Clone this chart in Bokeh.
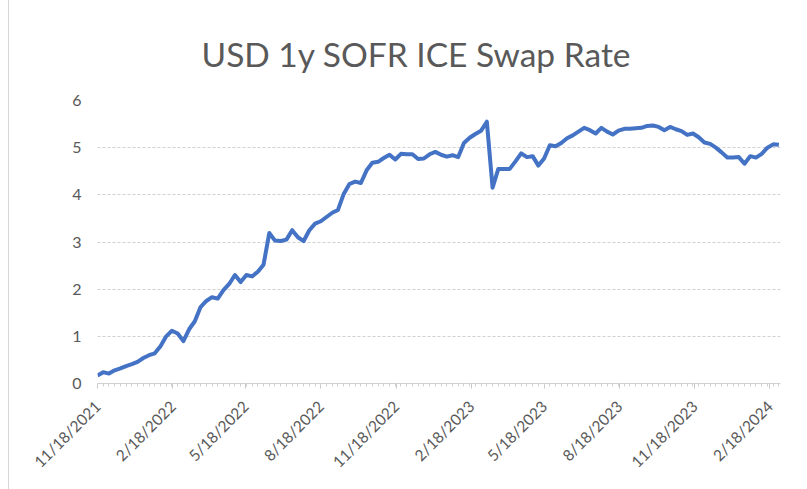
import pandas as pd
from bokeh.plotting import figure
from bokeh.models import Range1d, FixedTicker
from bokeh.embed import file_html
from bokeh.resources import INLINE

start_date = "2021-11-18"
n_obs = 120
obs_dates = pd.date_range(start_date, periods=n_obs, freq="7D")
rates = [
    0.17, 0.24, 0.21, 0.28, 0.32, 0.37, 0.41, 0.46, 0.54, 0.60,
    0.64, 0.79, 1.00, 1.12, 1.06, 0.90, 1.15, 1.32, 1.62, 1.75,
    1.83, 1.80, 1.98, 2.11, 2.30, 2.15, 2.30, 2.27, 2.37, 2.52,
    3.19, 3.03, 3.02, 3.05, 3.25, 3.10, 3.02, 3.25, 3.39, 3.44,
    3.53, 3.62, 3.68, 4.02, 4.23, 4.28, 4.25, 4.52, 4.68, 4.70,
    4.78, 4.85, 4.75, 4.87, 4.86, 4.86, 4.76, 4.77, 4.86, 4.91,
    4.85, 4.81, 4.84, 4.80, 5.10, 5.21, 5.29, 5.36, 5.55, 4.15,
    4.55, 4.55, 4.55, 4.71, 4.88, 4.80, 4.82, 4.62, 4.77, 5.05,
    5.03, 5.10, 5.20, 5.26, 5.34, 5.42, 5.37, 5.30, 5.42, 5.34,
    5.28, 5.36, 5.40, 5.40, 5.41, 5.42, 5.46, 5.47, 5.44, 5.37,
    5.44, 5.39, 5.35, 5.27, 5.30, 5.22, 5.11, 5.08, 5.00, 4.90,
    4.79, 4.79, 4.80, 4.66, 4.82, 4.79, 4.87, 5.00, 5.07, 5.06,
]
tick_dates = ["2021-11-18", "2022-02-18", "2022-05-18", "2022-08-18", "2022-11-18",
              "2023-02-18", "2023-05-18", "2023-08-18", "2023-11-18", "2024-02-18"]
tick_labels = ["11/18/2021", "2/18/2022", "5/18/2022", "8/18/2022", "11/18/2022",
               "2/18/2023", "5/18/2023", "8/18/2023", "11/18/2023", "2/18/2024"]
y_ticks = [0, 1, 2, 3, 4, 5, 6]
title_text = "USD 1y SOFR ICE Swap Rate"
x_end = "2024-03-02"

def to_ms(d):
    return int(pd.Timestamp(d).value // 10**6)

tick_ms = [to_ms(d) for d in tick_dates]
minor_ms = [to_ms(d) for d in obs_dates]

FONT = "Lato"
GREY = "#595959"

p = figure(width=798, height=501, x_axis_type="datetime",
           output_backend="svg", toolbar_location=None,
           x_range=Range1d(pd.Timestamp(start_date), pd.Timestamp(x_end)),
           y_range=Range1d(0, 6),
           min_border_left=88, min_border_right=27,
           min_border_top=112, min_border_bottom=106)
p.styles = {"margin-left": "8px", "margin-top": "-12px",
            "border-left": "1px solid #d6d6d6"}

p.line(obs_dates, rates, line_color="#4472C4", line_width=4, line_join="round")

p.title.text = title_text
p.title.align = "left"
p.title.offset = 104
p.title.text_font = FONT
p.title.text_font_size = "33.5px"
p.title.text_font_style = "normal"
p.title.text_color = GREY
p.title.standoff = 54

p.outline_line_color = None
p.background_fill_color = "white"
p.border_fill_color = "white"

# x axis
xa = p.xaxis[0]
xa.ticker = FixedTicker(ticks=tick_ms, minor_ticks=minor_ms)
xa.major_label_overrides = {t: l for t, l in zip(tick_ms, tick_labels)}
xa.major_label_orientation = 0.785398
xa.major_label_text_font = FONT
xa.major_label_text_font_size = "15.5px"
xa.major_label_text_color = GREY
xa.axis_line_color = "#d0d0d0"
xa.major_tick_line_color = "#c8c8c8"
xa.minor_tick_line_color = "#d0d0d0"
xa.major_tick_in = 0
xa.major_tick_out = 5
xa.minor_tick_in = 0
xa.minor_tick_out = 3
xa.major_label_standoff = 15

# y axis
ya = p.yaxis[0]
ya.ticker = FixedTicker(ticks=y_ticks)
ya.axis_line_color = None
ya.major_tick_line_color = None
ya.minor_tick_line_color = None
ya.major_tick_out = 0
ya.major_tick_in = 0
ya.major_label_text_font = FONT
ya.major_label_text_font_size = "16px"
ya.major_label_text_color = GREY
ya.major_label_standoff = 16

p.xgrid.grid_line_color = None
p.ygrid.grid_line_color = "#d0d0d0"
p.ygrid.grid_line_dash = "3 2"
p.ygrid.grid_line_width = 1

open("out.html", "w").write(file_html(p, INLINE))
